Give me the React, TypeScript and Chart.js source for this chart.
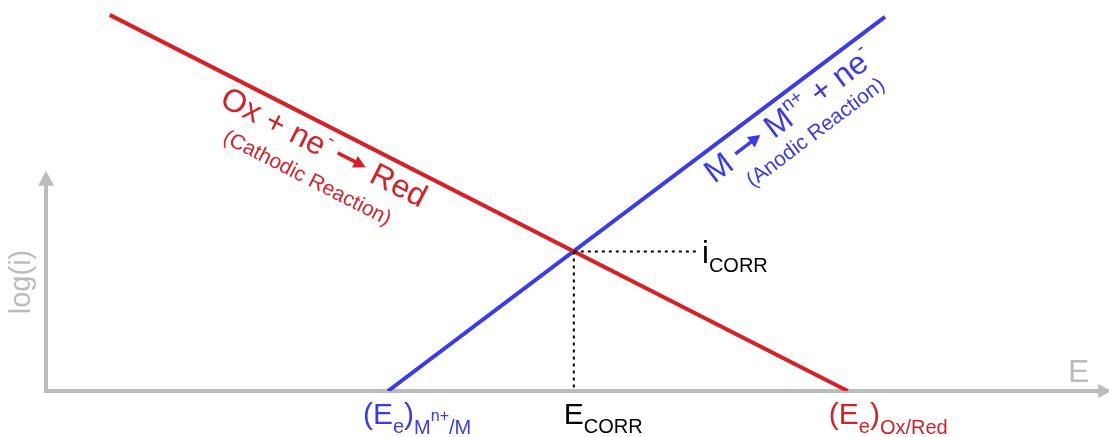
import React, { useEffect, useRef } from "react";
import { Chart, registerables } from "chart.js";

Chart.register(...registerables);

// Evans diagram: potential E on the horizontal axis, log(i) on the vertical axis.
const eAxisRange = [0, 10];
const logIAxisRange = [0, 10];
const eAxisArrowTip = 10.03;
const logIAxisArrowTip = 5.63;

// Cathodic branch (Ox + ne- -> Red)
const cathodicE = [0.6, 7.55];
const cathodicLogI = [9.62, 0];

// Anodic branch (M -> M^n+ + ne-)
const anodicE = [3.22, 7.9];
const anodicLogI = [0, 9.57];

// Corrosion point and the end of its horizontal guide
const corrosionE = 4.97;
const corrosionLogI = 3.57;
const iCorrGuideEndE = 6.13;

const RED = "#d52128";
const BLUE = "#3b3be8";
const GREY = "#bcbcbc";
const FONT = '"Liberation Sans", Arial, Helvetica, sans-serif';

type Run = { text?: string; size: number; dy?: number; arrow?: number };

const font = (size: number) => `${size}px ${FONT}`;

function runWidth(ctx: CanvasRenderingContext2D, r: Run) {
  if (r.arrow) return r.arrow;
  ctx.font = font(r.size);
  return ctx.measureText(r.text || "").width;
}

function drawArrowGlyph(ctx: CanvasRenderingContext2D, x0: number, baseline: number, r: Run, color: string) {
  const w = r.arrow || 0;
  const gap = 0.26 * r.size;
  const y = baseline - 0.36 * r.size;
  const headLen = 12;
  const headHalf = 6.5;
  const xStart = x0 + gap;
  const xTip = x0 + w - gap;
  ctx.save();
  ctx.strokeStyle = color;
  ctx.fillStyle = color;
  ctx.lineWidth = 3.5;
  ctx.beginPath();
  ctx.moveTo(xStart, y);
  ctx.lineTo(xTip - headLen + 1, y);
  ctx.stroke();
  ctx.beginPath();
  ctx.moveTo(xTip, y);
  ctx.lineTo(xTip - headLen, y - headHalf);
  ctx.lineTo(xTip - headLen, y + headHalf);
  ctx.closePath();
  ctx.fill();
  ctx.restore();
}

function drawRuns(
  ctx: CanvasRenderingContext2D,
  runs: Run[],
  x: number,
  baseline: number,
  color: string,
  align: "left" | "center"
) {
  const widths = runs.map((r) => runWidth(ctx, r));
  const total = widths.reduce((a, b) => a + b, 0);
  let cx = align === "center" ? x - total / 2 : x;
  ctx.save();
  ctx.fillStyle = color;
  ctx.textAlign = "left";
  ctx.textBaseline = "alphabetic";
  runs.forEach((r, i) => {
    if (r.arrow) {
      drawArrowGlyph(ctx, cx, baseline, r, color);
    } else {
      ctx.font = font(r.size);
      ctx.fillText(r.text || "", cx, baseline + (r.dy || 0));
    }
    cx += widths[i];
  });
  ctx.restore();
}

function drawAlongLine(
  ctx: CanvasRenderingContext2D,
  p0: { x: number; y: number },
  p1: { x: number; y: number },
  u: number,
  baselineOffset: number,
  runs: Run[],
  color: string
) {
  const ang = Math.atan2(p1.y - p0.y, p1.x - p0.x);
  ctx.save();
  ctx.translate(p0.x, p0.y);
  ctx.rotate(ang);
  drawRuns(ctx, runs, u, baselineOffset, color, "center");
  ctx.restore();
}

const diagramPlugin = {
  id: "evansDiagram",
  beforeDatasetsDraw(chart: any) {
    const { ctx, scales } = chart;
    const xs = scales.x;
    const ys = scales.y;
    const ox = xs.getPixelForValue(eAxisRange[0]);
    const oy = ys.getPixelForValue(logIAxisRange[0]);
    const xTip = xs.getPixelForValue(eAxisArrowTip);
    const yTip = ys.getPixelForValue(logIAxisArrowTip);

    ctx.save();
    ctx.strokeStyle = GREY;
    ctx.fillStyle = GREY;
    ctx.lineWidth = 4;
    ctx.lineCap = "butt";
    // vertical axis
    ctx.beginPath();
    ctx.moveTo(ox, oy + 2);
    ctx.lineTo(ox, yTip + 12);
    ctx.stroke();
    ctx.beginPath();
    ctx.moveTo(ox, yTip);
    ctx.lineTo(ox - 8, yTip + 15);
    ctx.lineTo(ox + 8, yTip + 15);
    ctx.closePath();
    ctx.fill();
    // horizontal axis
    ctx.beginPath();
    ctx.moveTo(ox - 2, oy);
    ctx.lineTo(xTip - 10, oy);
    ctx.stroke();
    ctx.beginPath();
    ctx.moveTo(xTip, oy);
    ctx.lineTo(xTip - 13, oy - 7);
    ctx.lineTo(xTip - 13, oy + 7);
    ctx.closePath();
    ctx.fill();

    // axis titles
    ctx.font = font(32);
    ctx.textAlign = "left";
    ctx.textBaseline = "alphabetic";
    ctx.fillText("E", 1068, oy - 9);

    ctx.save();
    ctx.translate(22, 282);
    ctx.rotate(-Math.PI / 2);
    ctx.font = font(29);
    ctx.textAlign = "center";
    ctx.textBaseline = "middle";
    ctx.fillText("log(i)", 0, 0);
    ctx.restore();
    ctx.restore();
  },
  afterDatasetsDraw(chart: any) {
    const { ctx, scales } = chart;
    const xs = scales.x;
    const ys = scales.y;
    const px = (x: number, y: number) => ({ x: xs.getPixelForValue(x), y: ys.getPixelForValue(y) });

    const cStart = px(cathodicE[0], cathodicLogI[0]);
    const cEnd = px(cathodicE[1], cathodicLogI[1]);
    const aStart = px(anodicE[0], anodicLogI[0]);
    const aEnd = px(anodicE[1], anodicLogI[1]);

    // labels along the cathodic line
    drawAlongLine(ctx, cStart, cEnd, 251, 31, [
      { text: "Ox + ne", size: 32 },
      { text: "-", size: 20, dy: -15 },
      { arrow: 48, size: 32 },
      { text: "Red", size: 32 },
    ], RED);
    drawAlongLine(ctx, cStart, cEnd, 250, 62, [{ text: "(Cathodic Reaction)", size: 21 }], RED);

    // labels along the anodic line
    drawAlongLine(ctx, aStart, aEnd, 486, 31, [
      { text: "M", size: 32 },
      { arrow: 48, size: 32 },
      { text: "M", size: 32 },
      { text: "n+", size: 19, dy: -14 },
      { text: " + ne", size: 32 },
      { text: "-", size: 20, dy: -15 },
    ], BLUE);
    drawAlongLine(ctx, aStart, aEnd, 497, 57, [{ text: "(Anodic Reaction)", size: 21 }], BLUE);

    // labels under the potential axis
    const base = ys.getPixelForValue(logIAxisRange[0]) + 33;
    drawRuns(ctx, [
      { text: "(E", size: 30 },
      { text: "e", size: 20, dy: 9 },
      { text: ")", size: 30 },
      { text: "M", size: 20, dy: 10 },
      { text: "n+", size: 16, dy: -3 },
      { text: "/M", size: 20, dy: 10 },
    ], aStart.x - 25, base, BLUE, "left");

    drawRuns(ctx, [
      { text: "(E", size: 30 },
      { text: "e", size: 20, dy: 9 },
      { text: ")", size: 30 },
      { text: "Ox/Red", size: 20, dy: 10 },
    ], cEnd.x - 19, base, RED, "left");

    const corr = px(corrosionE, corrosionLogI);
    ctx.font = font(30);
    const eW = ctx.measureText("E").width;
    drawRuns(ctx, [
      { text: "E", size: 30 },
      { text: "CORR", size: 20, dy: 9 },
    ], corr.x - eW / 2, base, "#000", "left");

    const guideEnd = px(iCorrGuideEndE, corrosionLogI);
    drawRuns(ctx, [
      { text: "i", size: 31 },
      { text: "CORR", size: 20, dy: 9 },
    ], guideEnd.x + 5, corr.y + 12, "#000", "left");
  },
};

export default function App() {
  const canvasRef = useRef<HTMLCanvasElement | null>(null);

  useEffect(() => {
    const canvas = canvasRef.current;
    if (!canvas) return;
    const line = (xs: number[], ys: number[]) => xs.map((x, i) => ({ x, y: ys[i] }));
    const chart = new Chart(canvas, {
      type: "scatter",
      data: {
        datasets: [
          {
            data: [
              { x: corrosionE, y: corrosionLogI },
              { x: corrosionE, y: logIAxisRange[0] },
            ],
            showLine: true,
            borderColor: "#000",
            borderWidth: 2,
            borderDash: [3, 4],
            pointRadius: 0,
          },
          {
            data: [
              { x: corrosionE, y: corrosionLogI },
              { x: iCorrGuideEndE, y: corrosionLogI },
            ],
            showLine: true,
            borderColor: "#000",
            borderWidth: 2,
            borderDash: [3, 4],
            pointRadius: 0,
          },
          {
            data: line(cathodicE, cathodicLogI),
            showLine: true,
            borderColor: RED,
            borderWidth: 4,
            borderCapStyle: "butt",
            pointRadius: 0,
          },
          {
            data: line(anodicE, anodicLogI),
            showLine: true,
            borderColor: BLUE,
            borderWidth: 4,
            borderCapStyle: "butt",
            pointRadius: 0,
          },
        ],
      },
      options: {
        animation: false,
        responsive: false,
        events: [],
        layout: { padding: { left: 46, right: 1, top: 0, bottom: 46 } },
        scales: {
          x: { type: "linear", min: eAxisRange[0], max: eAxisRange[1], display: false },
          y: { type: "linear", min: logIAxisRange[0], max: logIAxisRange[1], display: false },
        },
        plugins: { legend: { display: false }, tooltip: { enabled: false } },
        elements: { line: { tension: 0 } },
      } as any,
      plugins: [diagramPlugin],
    });
    return () => chart.destroy();
  }, []);

  return (
    <div style={{ position: "fixed", left: 0, top: 0, width: 1109, height: 437, background: "#fff" }}>
      <canvas ref={canvasRef} width={1109} height={437} style={{ display: "block" }} />
    </div>
  );
}
